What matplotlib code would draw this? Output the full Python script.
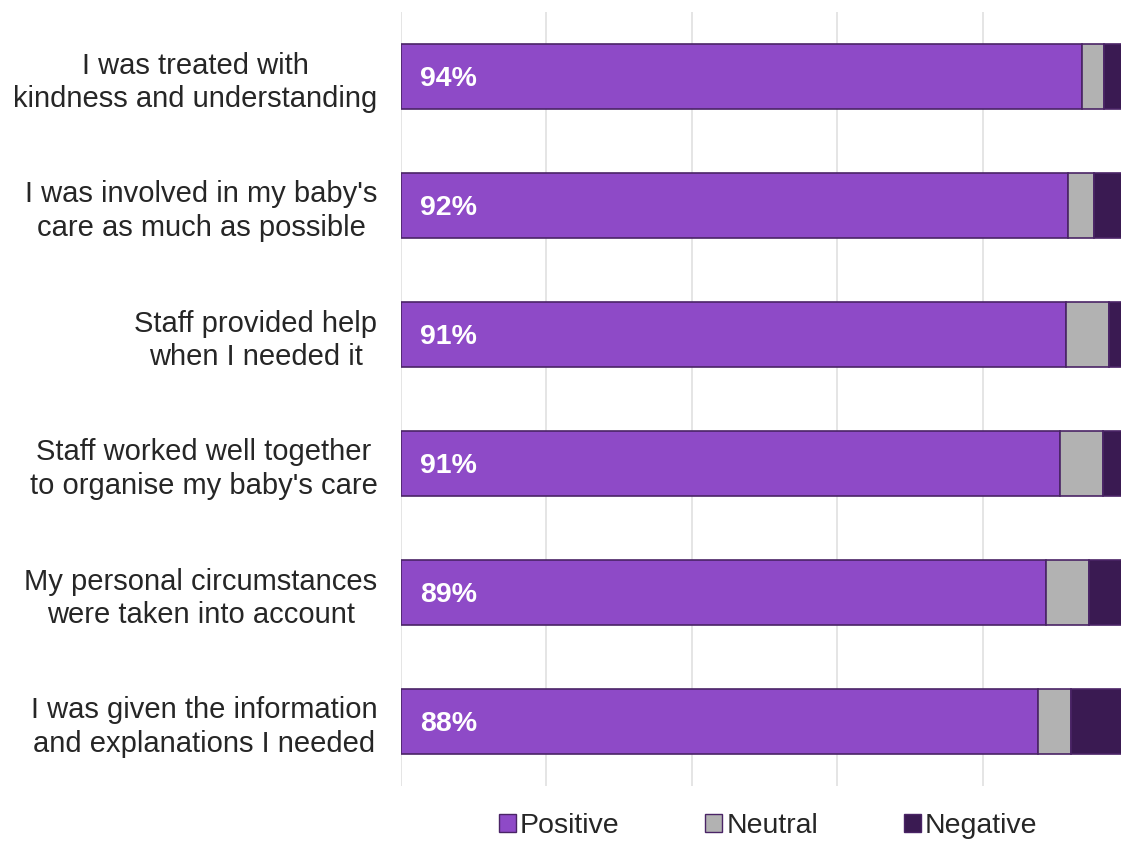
import matplotlib.pyplot as plt
from matplotlib.patches import Patch

plt.rcParams['font.family'] = ['Liberation Sans', 'DejaVu Sans']

questions = [
    "I was treated with\nkindness and understanding",
    "I was involved in my baby's\ncare as much as possible",
    "Staff provided help\nwhen I needed it",
    "Staff worked well together\nto organise my baby's care",
    "My personal circumstances\nwere taken into account",
    "I was given the information\nand explanations I needed",
]
positive = [93.7, 91.7, 91.4, 90.6, 88.7, 87.6]
neutral = [2.9, 3.6, 5.9, 5.9, 5.9, 4.5]
negative = [3.4, 4.7, 2.7, 3.5, 5.4, 7.9]
pct_labels = ["94%", "92%", "91%", "91%", "89%", "88%"]

c_pos = "#8E4AC7"
c_neu = "#B2B2B2"
c_neg = "#3A1A52"
edge = "#4A2466"

fig = plt.figure(figsize=(11.21, 8.42), dpi=100)
ax = fig.add_axes([401 / 1121, 1 - 786 / 842, 1 - 401 / 1121, (786 - 12) / 842])

y = list(range(len(questions)))
left2 = [p + n for p, n in zip(positive, neutral)]
ax.barh(y, positive, height=0.5, color=c_pos, edgecolor=edge, linewidth=1.2, zorder=3)
ax.barh(y, neutral, left=positive, height=0.5, color=c_neu, edgecolor=edge, linewidth=1.2, zorder=3)
ax.barh(y, negative, left=left2, height=0.5, color=c_neg, edgecolor=edge, linewidth=1.2, zorder=3)

for yi, lab in zip(y, pct_labels):
    ax.text(2.6, yi + 0.02, lab, color="white", fontsize=20.5, fontweight="bold",
            va="center", ha="left", zorder=4)

ax.set_xlim(0, 99)
ax.set_ylim(len(questions) - 0.5, -0.5)
ax.set_xticks([0, 20, 40, 60, 80])
ax.set_xticklabels([])
ax.tick_params(axis='x', length=0)
ax.grid(axis='x', color="#E3E3E3", linewidth=1.3, zorder=0)
ax.set_yticks(y)
ax.set_yticklabels(questions, fontsize=21, color="#262626", multialignment='center',
                   linespacing=1.25)
ax.tick_params(axis='y', length=0, pad=17)
for s in ax.spines.values():
    s.set_visible(False)

handles = [Patch(facecolor=c_pos, edgecolor=edge, label="Positive"),
           Patch(facecolor=c_neu, edgecolor=edge, label="Neutral"),
           Patch(facecolor=c_neg, edgecolor=edge, label="Negative")]
fig.legend(handles=handles, loc="center", bbox_to_anchor=(768 / 1121, 1 - 826 / 842),
           ncol=3, frameon=False, fontsize=20.5, handlelength=0.6, handleheight=0.6,
           handletextpad=0.15, columnspacing=3.0, labelcolor="#262626")

fig.savefig("out.png", dpi=100)
